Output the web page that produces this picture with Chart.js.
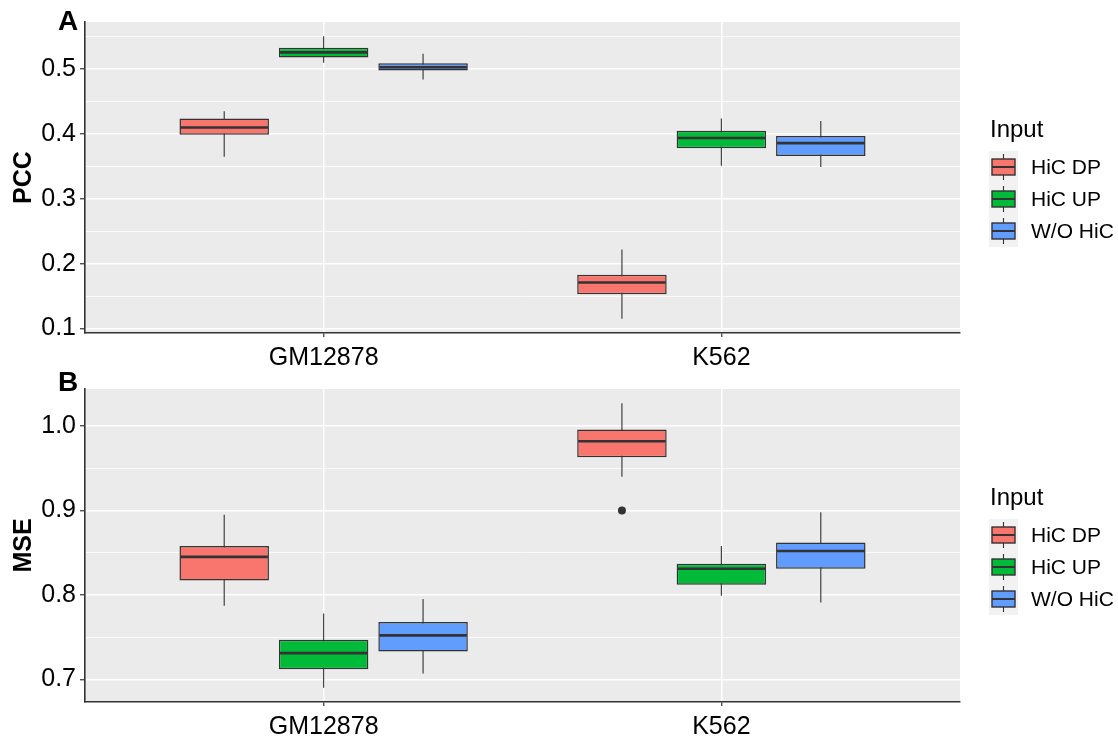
<!DOCTYPE html>
<html>
<head>
<meta charset="utf-8">
<title>PCC / MSE boxplots</title>
<script src="https://cdn.jsdelivr.net/npm/chart.js@4.4.1/dist/chart.umd.min.js"></script>
<style>
  html, body { margin: 0; padding: 0; background: #fff; }
  canvas { display: block; }
</style>
</head>
<body>
<canvas id="pccChart" width="1118" height="368"></canvas>
<canvas id="mseChart" width="1118" height="368"></canvas>
<script>
// categories and groups
const cellLines = ['GM12878', 'K562'];
const inputNames = ['HiC DP', 'HiC UP', 'W/O HiC'];
const inputColors = ['#F8766D', '#00BA38', '#619CFF'];

// [lower whisker, Q1, median, Q3, upper whisker] per cell line
const pccDP = [[0.365, 0.399, 0.410, 0.424, 0.435], [0.115, 0.153, 0.171, 0.183, 0.222]];
const pccUP = [[0.510, 0.518, 0.526, 0.533, 0.551], [0.351, 0.378, 0.394, 0.405, 0.424]];
const pccWO = [[0.484, 0.498, 0.503, 0.509, 0.524], [0.349, 0.366, 0.386, 0.397, 0.420]];

const mseDP = [[0.787, 0.817, 0.845, 0.858, 0.895], [0.940, 0.963, 0.982, 0.996, 1.027]];
const mseUP = [[0.690, 0.712, 0.731, 0.747, 0.778], [0.799, 0.812, 0.831, 0.837, 0.858]];
const mseWO = [[0.707, 0.733, 0.752, 0.768, 0.795], [0.791, 0.831, 0.852, 0.862, 0.898]];

// outliers per input, per cell line
const pccOutliers = [[[], []], [[], []], [[], []]];
const mseOutliers = [[[], [0.900]], [[], []], [[], []]];

// y tick labels
const pccTicks = [0.1, 0.2, 0.3, 0.4, 0.5];
const mseTicks = [0.7, 0.8, 0.9, 1.0];

const FONT = '"Liberation Sans", Arial, Helvetica, sans-serif';
const DARK = '#333333';
const DODGE = 0.75 / inputNames.length;

// whiskers under the boxes, medians on top
const boxWhiskers = {
    id: 'boxWhiskers',
    beforeDatasetsDraw(chart) {
        const { ctx, scales: { y } } = chart;
        chart.data.datasets.forEach((ds, di) => {
            if (!ds.stats) return;
            chart.getDatasetMeta(di).data.forEach((bar, i) => {
                const s = ds.stats[i];
                ctx.save();
                ctx.strokeStyle = DARK;
                ctx.lineWidth = 1.1;
                ctx.beginPath();
                ctx.moveTo(bar.x, y.getPixelForValue(s[4]));
                ctx.lineTo(bar.x, y.getPixelForValue(s[0]));
                ctx.stroke();
                ctx.restore();
            });
        });
    },
    afterDatasetsDraw(chart) {
        const { ctx, scales: { y } } = chart;
        chart.data.datasets.forEach((ds, di) => {
            if (!ds.stats) return;
            chart.getDatasetMeta(di).data.forEach((bar, i) => {
                const py = y.getPixelForValue(ds.stats[i][2]);
                ctx.save();
                ctx.strokeStyle = DARK;
                ctx.lineWidth = 2.6;
                ctx.beginPath();
                ctx.moveTo(bar.x - bar.width / 2 + 1, py);
                ctx.lineTo(bar.x + bar.width / 2 - 1, py);
                ctx.stroke();
                ctx.restore();
            });
        });
    }
};

// grey panel background
const panelBg = {
    id: 'panelBg',
    beforeDraw(chart) {
        const { ctx, chartArea: a } = chart;
        ctx.save();
        ctx.fillStyle = '#EBEBEB';
        ctx.fillRect(a.left, a.top, a.right - a.left, a.bottom - a.top);
        ctx.restore();
    }
};

// panel letter and the "Input" legend
const panelDecor = {
    id: 'panelDecor',
    afterDraw(chart, args, opts) {
        const ctx = chart.ctx;
        ctx.save();
        ctx.fillStyle = '#000';
        ctx.font = 'bold 28px ' + FONT;
        ctx.textBaseline = 'alphabetic';
        ctx.fillText(opts.tag, 58, opts.tagY);

        // legend
        const lx = 990;
        ctx.font = '24px ' + FONT;
        ctx.fillText('Input', lx, 137);

        const rowH = 32, top = 151, keyW = 29;
        ctx.fillStyle = '#F2F2F2';
        ctx.fillRect(lx - 1, top, keyW, rowH * inputNames.length);

        inputNames.forEach((name, k) => {
            const cy = top + rowH * k + rowH / 2;
            const cx = lx - 1 + keyW / 2;
            ctx.strokeStyle = DARK;
            ctx.lineWidth = 1.1;
            ctx.beginPath();
            ctx.moveTo(cx, cy - 13);
            ctx.lineTo(cx, cy + 13);
            ctx.stroke();
            ctx.fillStyle = inputColors[k];
            ctx.fillRect(cx - 11.5, cy - 8, 23, 16);
            ctx.lineWidth = 1.4;
            ctx.strokeRect(cx - 11.5, cy - 8, 23, 16);
            ctx.lineWidth = 2;
            ctx.beginPath();
            ctx.moveTo(cx - 11.5, cy);
            ctx.lineTo(cx + 11.5, cy);
            ctx.stroke();

            ctx.fillStyle = '#000';
            ctx.font = '21px ' + FONT;
            ctx.textBaseline = 'middle';
            ctx.fillText(name, lx + 41, cy + 1);
            ctx.textBaseline = 'alphabetic';
        });
        ctx.restore();
    }
};

function makePanel(canvasId, tag, tagY, yTitle, stats, outliers, majorTicks, padTop, xAxisH) {
    // y range as ggplot does: data range plus 5% on each side
    const all = [];
    stats.forEach(rows => rows.forEach(s => all.push(s[0], s[4])));
    outliers.forEach(rows => rows.forEach(list => all.push(...list)));
    const lo = Math.min(...all), hi = Math.max(...all);
    const yMin = lo - 0.05 * (hi - lo);
    const yMax = hi + 0.05 * (hi - lo);

    const step = majorTicks[1] - majorTicks[0];
    const isMajor = v => majorTicks.some(m => Math.abs(m - v) < 1e-9);
    const gridVals = [];
    majorTicks.forEach(m => gridVals.push(m));
    [majorTicks[0] - step / 2, ...majorTicks.map(m => m + step / 2)].forEach(v => {
        if (v > yMin && v < yMax) gridVals.push(v);
    });
    gridVals.sort((a, b) => a - b);

    const datasets = stats.map((rows, k) => ({
        type: 'bar',
        label: inputNames[k],
        data: rows.map((s, c) => ({ x: c + 1 + (k - 1) * DODGE, y: [s[1], s[3]] })),
        stats: rows,
        backgroundColor: inputColors[k],
        borderColor: DARK,
        borderWidth: 1.5,
        borderSkipped: false,
        grouped: false,
        barPercentage: 0.9,
        categoryPercentage: 1
    }));

    const outlierPts = [];
    outliers.forEach((rows, k) => rows.forEach((list, c) => list.forEach(v => {
        outlierPts.push({ x: c + 1 + (k - 1) * DODGE, y: v });
    })));
    if (outlierPts.length) {
        datasets.push({
            type: 'scatter',
            label: 'outliers',
            data: outlierPts,
            pointRadius: 4,
            backgroundColor: DARK,
            borderWidth: 0
        });
    }

    return new Chart(document.getElementById(canvasId), {
        type: 'bar',
        data: { datasets },
        plugins: [panelBg, boxWhiskers, panelDecor],
        options: {
            responsive: false,
            animation: false,
            events: [],
            layout: { padding: { top: padTop, right: 158, bottom: 0, left: 0 } },
            plugins: {
                legend: { display: false },
                tooltip: { enabled: false },
                panelDecor: { tag, tagY }
            },
            scales: {
                x: {
                    type: 'linear',
                    min: 0.4,
                    max: cellLines.length + 0.6,
                    offset: false,
                    afterBuildTicks: s => { s.ticks = cellLines.map((_, i) => ({ value: i + 1 })); },
                    afterFit: s => { s.height = xAxisH; },
                    ticks: {
                        autoSkip: false,
                        maxRotation: 0,
                        padding: 6,
                        color: '#000',
                        font: { family: FONT, size: 25 },
                        callback: v => cellLines[Math.round(v) - 1]
                    },
                    grid: { offset: false, color: '#FFFFFF', lineWidth: 1.5, tickColor: DARK, tickLength: 4, tickWidth: 1.2 },
                    border: { display: true, color: DARK, width: 1.6 }
                },
                y: {
                    type: 'linear',
                    min: yMin,
                    max: yMax,
                    afterBuildTicks: s => { s.ticks = gridVals.map(v => ({ value: v })); },
                    afterFit: s => { s.width = 85; },
                    ticks: {
                        autoSkip: false,
                        padding: 4,
                        color: '#000',
                        font: { family: FONT, size: 25 },
                        callback: v => isMajor(v) ? v.toFixed(1) : ''
                    },
                    grid: {
                        color: '#FFFFFF',
                        lineWidth: c => isMajor(c.tick.value) ? 1.5 : 0.8,
                        tickColor: c => isMajor(c.tick.value) ? DARK : 'rgba(0,0,0,0)',
                        tickLength: 5,
                        tickWidth: 1.2
                    },
                    border: { display: true, color: DARK, width: 1.6 },
                    title: {
                        display: true,
                        text: yTitle,
                        color: '#000',
                        font: { family: FONT, size: 25, weight: 'bold', lineHeight: 1.2 },
                        padding: { top: 9, bottom: 0 }
                    }
                }
            }
        }
    });
}

makePanel('pccChart', 'A', 30, 'PCC', [pccDP, pccUP, pccWO], pccOutliers, pccTicks, 22, 35);
makePanel('mseChart', 'B', 23, 'MSE', [mseDP, mseUP, mseWO], mseOutliers, mseTicks, 21, 34);
</script>
</body>
</html>
